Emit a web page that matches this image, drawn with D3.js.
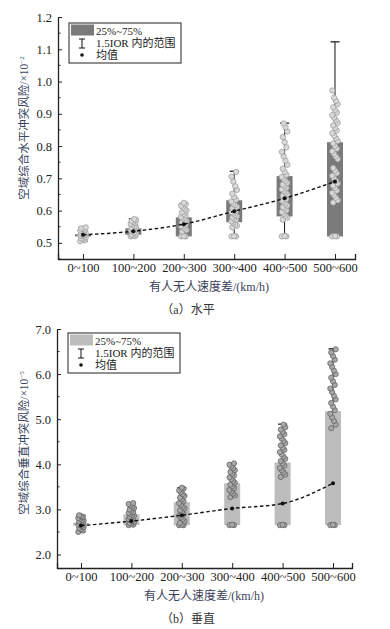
<!DOCTYPE html>
<html><head><meta charset="utf-8">
<script src="https://cdn.jsdelivr.net/npm/d3@7"></script>
<style>
body{margin:0;background:#fff;}
svg{display:block;}
</style></head>
<body>
<svg id="chart" width="390" height="629"></svg>
<script>
const categories = ["0~100","100~200","200~300","300~400","400~500","500~600"];

// (a) horizontal
const hQ1 = [0.520,0.525,0.520,0.564,0.582,0.520];
const hQ3 = [0.527,0.545,0.579,0.632,0.707,0.812];
const hLow = [0.505,0.520,0.520,0.520,0.520,0.520];
const hHigh = [0.548,0.575,0.622,0.722,0.871,1.123];
const hMean = [0.525,0.536,0.558,0.598,0.638,0.690];
const hPts0 = [0.505,0.508,0.512,0.514,0.517,0.519,0.521,0.523,0.525,0.527,0.529,0.531,0.533,0.536,0.538,0.540,0.543,0.545,0.548];
const hPts1 = [0.520,0.521,0.523,0.526,0.529,0.532,0.535,0.538,0.541,0.544,0.547,0.550,0.553,0.556,0.559,0.562,0.565,0.568,0.571,0.574];
const hPts2 = [0.520,0.520,0.521,0.535,0.540,0.544,0.548,0.552,0.556,0.560,0.564,0.568,0.572,0.576,0.580,0.585,0.590,0.595,0.600,0.605,0.610,0.615,0.620,0.624];
const hPts3 = [0.520,0.520,0.521,0.548,0.553,0.558,0.563,0.567,0.571,0.575,0.579,0.583,0.587,0.591,0.595,0.599,0.603,0.607,0.612,0.617,0.622,0.628,0.634,0.642,0.652,0.664,0.676,0.690,0.705,0.720];
const hPts4 = [0.520,0.520,0.521,0.572,0.578,0.584,0.590,0.596,0.601,0.606,0.611,0.616,0.621,0.626,0.631,0.636,0.641,0.646,0.651,0.656,0.661,0.666,0.671,0.676,0.681,0.686,0.692,0.698,0.704,0.711,0.720,0.730,0.742,0.755,0.768,0.782,0.796,0.812,0.828,0.845,0.858,0.870];
const hPts5 = [0.520,0.520,0.521,0.625,0.632,0.640,0.648,0.655,0.662,0.670,0.677,0.684,0.692,0.700,0.708,0.716,0.724,0.732,0.760,0.768,0.776,0.784,0.792,0.800,0.808,0.816,0.824,0.832,0.840,0.848,0.856,0.864,0.872,0.880,0.888,0.896,0.904,0.912,0.920,0.930,0.940,0.950,0.972];
const hTicks = [0.5,0.6,0.7,0.8,0.9,1.0,1.1,1.2];

// (b) vertical
const vQ1 = [2.64,2.65,2.65,2.65,2.65,2.65];
const vQ3 = [2.70,2.89,3.16,3.58,4.04,5.18];
const vLow = [2.50,2.65,2.65,2.65,2.65,2.65];
const vHigh = [2.87,3.13,3.48,4.02,4.89,6.56];
const vMean = [2.64,2.74,2.87,3.02,3.13,3.58];
const vPts0 = [2.50,2.53,2.56,2.59,2.61,2.63,2.65,2.67,2.69,2.71,2.73,2.75,2.77,2.79,2.81,2.83,2.85,2.87];
const vPts1 = [2.65,2.66,2.68,2.70,2.72,2.74,2.76,2.78,2.80,2.82,2.84,2.86,2.88,2.90,2.92,2.94,2.97,3.00,3.03,3.06,3.09,3.12,3.14];
const vPts2 = [2.65,2.65,2.66,2.70,2.74,2.78,2.82,2.86,2.90,2.94,2.98,3.02,3.06,3.10,3.14,3.18,3.22,3.26,3.30,3.34,3.38,3.42,3.46,3.48];
const vPts3 = [2.65,2.65,2.66,3.27,3.31,3.35,3.39,3.43,3.47,3.51,3.55,3.59,3.63,3.67,3.71,3.75,3.79,3.83,3.87,3.91,3.95,3.99,4.02];
const vPts4 = [2.65,2.65,2.66,3.72,3.77,3.82,3.87,3.92,3.97,4.02,4.07,4.12,4.17,4.22,4.27,4.32,4.37,4.42,4.47,4.52,4.57,4.62,4.67,4.72,4.77,4.82,4.88];
const vPts5 = [2.65,2.65,2.66,4.80,4.88,4.96,5.04,5.12,5.20,5.28,5.36,5.44,5.52,5.60,5.68,5.76,5.84,5.92,6.00,6.08,6.16,6.24,6.32,6.40,6.48,6.55];
const vTicks = [2.0,3.0,4.0,5.0,6.0,7.0];

const legendLabels = ["25%~75%","1.5IOR 内的范围","均值"];
const xTitle = "有人无人速度差/(km/h)";

const SERIF = "'Liberation Serif','Times New Roman','Noto Sans CJK SC',serif";
const svg = d3.select("#chart");

function panel(cfg){
  const g = svg.append("g");
  const x = d3.scaleLinear().domain(cfg.xDom).range([cfg.left, cfg.right]);
  const y = d3.scaleLinear().domain(cfg.yDom).range([cfg.bottom, cfg.top]);
  const bw = 16;

  g.selectAll("rect.box").data(categories).join("rect")
    .attr("x",(d,i)=>x(i)-bw/2).attr("width",bw)
    .attr("y",(d,i)=>y(cfg.q3[i])).attr("height",(d,i)=>y(cfg.q1[i])-y(cfg.q3[i]))
    .attr("fill",cfg.boxColor);
  categories.forEach((c,i)=>{
    g.append("line").attr("x1",x(i)).attr("x2",x(i)).attr("y1",y(cfg.q3[i])).attr("y2",y(cfg.high[i])).attr("stroke","#111").attr("stroke-width",1);
    g.append("line").attr("x1",x(i)).attr("x2",x(i)).attr("y1",y(cfg.q1[i])).attr("y2",y(cfg.low[i])).attr("stroke","#111").attr("stroke-width",1);
    g.append("line").attr("x1",x(i)-4.5).attr("x2",x(i)+4.5).attr("y1",y(cfg.high[i])).attr("y2",y(cfg.high[i])).attr("stroke","#111").attr("stroke-width",1.2);
    if (cfg.low[i] < cfg.q1[i]-1e-9)
      g.append("line").attr("x1",x(i)-4.5).attr("x2",x(i)+4.5).attr("y1",y(cfg.low[i])).attr("y2",y(cfg.low[i])).attr("stroke","#111").attr("stroke-width",1.2);
  });
  cfg.pts.forEach((arr,i)=>{
    g.selectAll(null).data(arr).join("circle")
      .attr("cx",(d,j)=>x(i)+(((j*5)%7)-3)*0.9)
      .attr("cy",d=>y(d))
      .attr("r",cfg.pr)
      .attr("fill",cfg.ptFill).attr("stroke",cfg.ptStroke).attr("stroke-width",0.7);
  });
  const line = d3.line().x((d,i)=>x(i)).y(d=>y(d)).curve(d3.curveMonotoneX);
  g.append("path").datum(cfg.mean).attr("d",line).attr("fill","none")
    .attr("stroke","#111").attr("stroke-width",1.4).attr("stroke-dasharray","3.5,2.5");
  g.selectAll("circle.mean").data(cfg.mean).join("circle")
    .attr("cx",(d,i)=>x(i)).attr("cy",d=>y(d)).attr("r",2).attr("fill","#111");

  const yAx = d3.axisLeft(y).tickValues(cfg.yTicks).tickFormat(d3.format(".1f")).tickSizeInner(-4).tickSizeOuter(0).tickPadding(6);
  const ya = g.append("g").attr("transform",`translate(${cfg.left},0)`).call(yAx);
  ya.select(".domain").attr("stroke","#222").attr("stroke-width",1.3);
  ya.selectAll(".tick line").attr("stroke","#222");
  ya.selectAll("text").attr("font-family",SERIF).attr("font-size",12.5).attr("fill","#222");
  const minor = [];
  for (let k=0;k<cfg.yTicks.length;k++){ const v = cfg.yTicks[k]-cfg.minorStep; if (v>=cfg.yDom[0]-1e-9) minor.push(v); }
  g.selectAll(null).data(minor).join("line")
    .attr("x1",cfg.left).attr("x2",cfg.left+2.5).attr("y1",d=>y(d)).attr("y2",d=>y(d)).attr("stroke","#222");

  const xAx = d3.axisBottom(x).tickValues(d3.range(categories.length)).tickFormat(i=>categories[i]).tickSizeInner(-5).tickSizeOuter(-5).tickPadding(4);
  const xa = g.append("g").attr("transform",`translate(0,${cfg.bottom})`).call(xAx);
  xa.select(".domain").attr("stroke","#222").attr("stroke-width",1.3);
  xa.selectAll(".tick line").attr("stroke","#222");
  xa.selectAll("text").attr("font-family",SERIF).attr("font-size",12.5).attr("fill","#222");

  g.append("text").attr("x",cfg.xTitleX).attr("y",cfg.bottom+32).attr("text-anchor","middle")
    .attr("font-family",SERIF).attr("font-size",12).attr("fill","#3a4058").text(xTitle);
  g.append("text").attr("x",cfg.capX).attr("y",cfg.bottom+55).attr("text-anchor","middle")
    .attr("font-family",SERIF).attr("font-size",12).attr("fill","#333").text(cfg.caption);
  const yt = g.append("text").attr("transform",`translate(${cfg.yTitleX},${cfg.yTitleY}) rotate(-90)`)
    .attr("text-anchor","middle").attr("font-family",SERIF).attr("font-size",11.5).attr("fill","#3a4560");
  yt.append("tspan").text(cfg.yTitle);
  yt.append("tspan").attr("font-size",7).attr("dy",-4).text(cfg.yExp);

  const L = cfg.legend;
  g.append("rect").attr("x",L.x).attr("y",L.y).attr("width",112).attr("height",40)
    .attr("fill","#fff").attr("stroke","#222").attr("stroke-width",1);
  g.append("rect").attr("x",L.x+2).attr("y",L.y+1.5).attr("width",23).attr("height",11).attr("fill",cfg.boxColor);
  const ix = L.x+13;
  g.append("line").attr("x1",ix).attr("x2",ix).attr("y1",L.y+16).attr("y2",L.y+25).attr("stroke","#111");
  g.append("line").attr("x1",ix-3).attr("x2",ix+3).attr("y1",L.y+16).attr("y2",L.y+16).attr("stroke","#111");
  g.append("line").attr("x1",ix-3).attr("x2",ix+3).attr("y1",L.y+25).attr("y2",L.y+25).attr("stroke","#111");
  g.append("circle").attr("cx",ix).attr("cy",L.y+32).attr("r",1.8).attr("fill","#111");
  legendLabels.forEach((t,k)=>{
    g.append("text").attr("x",L.x+27).attr("y",L.y+11.5+k*12).attr("font-family",SERIF)
      .attr("font-size",11).attr("fill","#222").text(t);
  });
}

panel({
  xDom:[-0.496,5.397], left:58, right:355, yDom:[0.45,1.2], bottom:259, top:17,
  q1:hQ1,q3:hQ3,low:hLow,high:hHigh,mean:hMean,pts:[hPts0,hPts1,hPts2,hPts3,hPts4,hPts5],
  boxColor:"#7a7a7a", ptFill:"#d8d8d8", ptStroke:"#9a9a9a", pr:2.7,
  yTicks:hTicks, minorStep:0.05,
  xTitleX:209, capX:188, caption:"（a）水平",
  yTitle:"空域综合水平冲突风险/×10", yExp:"−2", yTitleX:28, yTitleY:128,
  legend:{x:69,y:23}
});
panel({
  xDom:[-0.476,5.377], left:57, right:352, yDom:[1.7,7.0], bottom:568, top:329,
  q1:vQ1,q3:vQ3,low:vLow,high:vHigh,mean:vMean,pts:[vPts0,vPts1,vPts2,vPts3,vPts4,vPts5],
  boxColor:"#bdbdbd", ptFill:"#a8a8a8", ptStroke:"#5a5a5a", pr:2.6,
  yTicks:vTicks, minorStep:0.5,
  xTitleX:204, capX:188, caption:"（b）垂直",
  yTitle:"空域综合垂直冲突风险/×10", yExp:"−5", yTitleX:28, yTitleY:443,
  legend:{x:68,y:333}
});
</script>
</body></html>
